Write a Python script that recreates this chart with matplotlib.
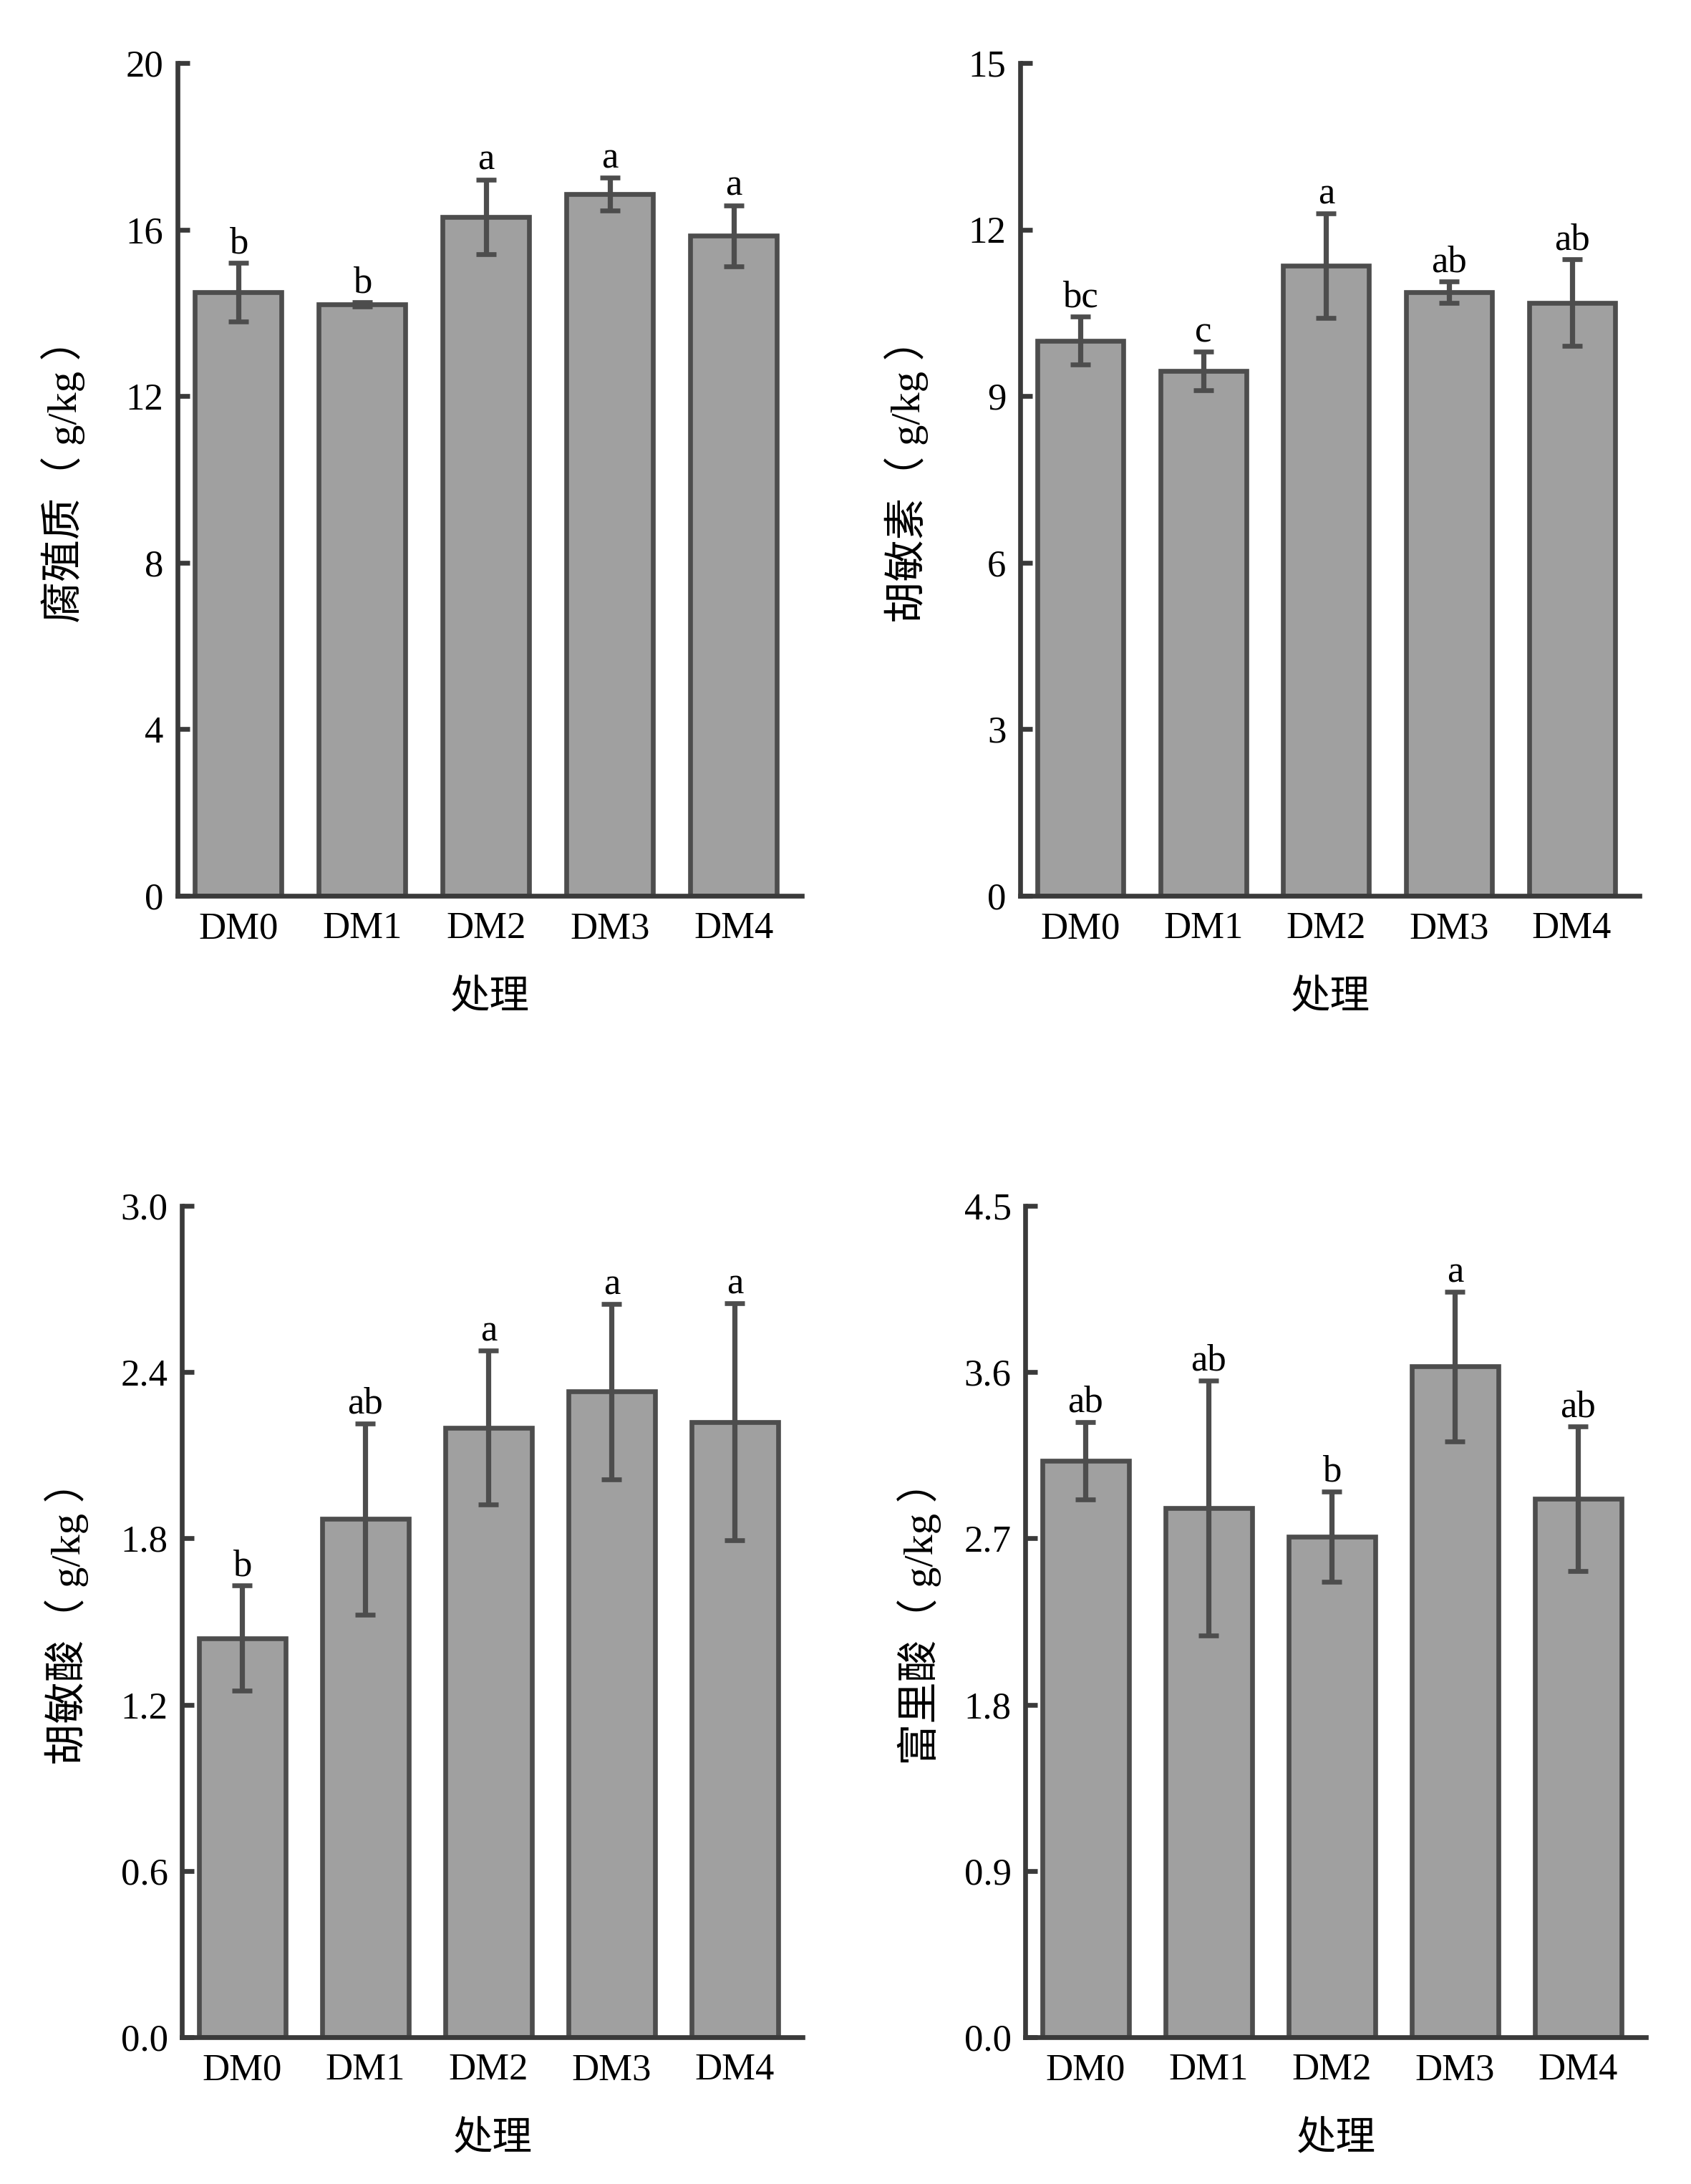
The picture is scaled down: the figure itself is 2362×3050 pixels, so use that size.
import matplotlib
matplotlib.use('Agg')
from matplotlib import pyplot as plt
import numpy as np

W, H = 2362, 3050
DPI = 200

groups = ['DM0', 'DM1', 'DM2', 'DM3', 'DM4']
xlabel = '处理'

humus = [14.5, 14.2, 16.3, 16.85, 15.85]
humus_err = [0.7, 0.05, 0.9, 0.4, 0.73]
humus_sig = ['b', 'b', 'a', 'a', 'a']
humus_ticks = [0, 4, 8, 12, 16, 20]

humin = [10.0, 9.45, 11.35, 10.87, 10.68]
humin_err = [0.43, 0.35, 0.94, 0.19, 0.78]
humin_sig = ['bc', 'c', 'a', 'ab', 'ab']
humin_ticks = [0, 3, 6, 9, 12, 15]

ha = [1.44, 1.87, 2.2, 2.33, 2.22]
ha_err = [0.19, 0.345, 0.277, 0.316, 0.428]
ha_sig = ['b', 'ab', 'a', 'a', 'a']
ha_ticks = [0.0, 0.6, 1.2, 1.8, 2.4, 3.0]

fa = [3.12, 2.865, 2.71, 3.63, 2.915]
fa_err = [0.21, 0.69, 0.245, 0.405, 0.39]
fa_sig = ['ab', 'ab', 'b', 'a', 'ab']
fa_ticks = [0.0, 0.9, 1.8, 2.7, 3.6, 4.5]

serif = 'Liberation Serif'
mixed = ['Liberation Serif', 'Noto Sans CJK SC']
fs = 19
dark = '#3a3a3a'
edge = '#4d4d4d'
face = '#a0a0a0'


def px_axes(fig, left, right, top, bottom):
    return fig.add_axes([left / W, 1 - bottom / H, (right - left) / W, (bottom - top) / H])


def draw_panel(ax, vals, errs, sig, ticks, ylabel, fmt, labx):
    x = np.arange(len(groups))
    ax.bar(x, vals, width=0.70, color=face, edgecolor=edge, linewidth=2.4, zorder=2)
    ax.errorbar(x, vals, yerr=errs, fmt='none', ecolor=edge, elinewidth=2.6,
                capsize=5.2, capthick=2.4, zorder=3)
    for xi, v, e, s in zip(x, vals, errs, sig):
        ax.annotate(s, (xi, v + e), xytext=(0, 5), textcoords='offset points',
                    ha='center', va='baseline', fontsize=fs, family=serif)
    ax.set_xlim(-0.49, 4.55)
    ax.set_ylim(ticks[0], ticks[-1])
    ax.set_yticks(ticks)
    ax.set_yticklabels([fmt.format(t) for t in ticks], family=serif, fontsize=fs)
    ax.set_xticks(x)
    ax.set_xticklabels(groups, family=serif, fontsize=fs)
    for side in ['top', 'right']:
        ax.spines[side].set_visible(False)
    for side in ['left', 'bottom']:
        ax.spines[side].set_linewidth(2.4)
        ax.spines[side].set_color(dark)
    ax.tick_params(axis='y', direction='in', length=6, width=2.4, color=dark, pad=7)
    ax.tick_params(axis='x', length=0, pad=8)
    ax.set_xlabel(xlabel, family=mixed, fontsize=fs + 1, labelpad=17)
    ax.set_ylabel(ylabel, family=mixed, fontsize=fs + 2)
    ax.yaxis.set_label_coords(labx, 0.51)


fig = plt.figure(figsize=(W / DPI, H / DPI), dpi=DPI)

ax1 = px_axes(fig, 248, 1120, 88, 1251)
draw_panel(ax1, humus, humus_err, humus_sig, humus_ticks, '腐殖质（ g/kg ）', '{:g}', -0.148)

ax2 = px_axes(fig, 1425, 2290, 88, 1251)
draw_panel(ax2, humin, humin_err, humin_sig, humin_ticks, '胡敏素（ g/kg ）', '{:g}', -0.148)

ax3 = px_axes(fig, 254, 1121, 1684, 2845)
draw_panel(ax3, ha, ha_err, ha_sig, ha_ticks, '胡敏酸（ g/kg ）', '{:.1f}', -0.15)

ax4 = px_axes(fig, 1432, 2299, 1684, 2845)
draw_panel(ax4, fa, fa_err, fa_sig, fa_ticks, '富里酸（ g/kg ）', '{:.1f}', -0.135)

fig.savefig('out.png', dpi=DPI, facecolor='white')
